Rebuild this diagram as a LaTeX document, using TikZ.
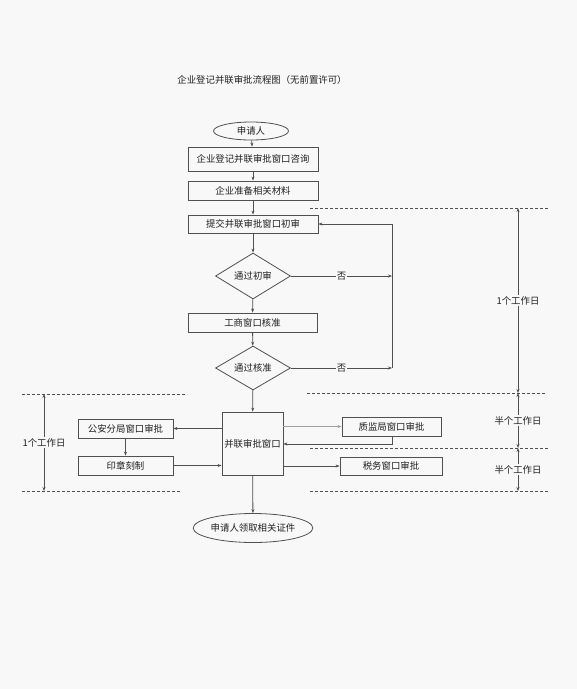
\documentclass[tikz,border=0pt]{standalone}
\usepackage{fontspec}
\setmainfont{Noto Sans CJK SC}
\usetikzlibrary{shapes.geometric,arrows.meta}
\definecolor{bg}{HTML}{F8F8F8}
\definecolor{ln}{HTML}{505050}
\definecolor{tx}{HTML}{202020}
\definecolor{lg}{HTML}{A0A0A0}
\begin{document}
\begin{tikzpicture}[x=1pt,y=-1pt,
  font=\fontsize{9.4}{10}\selectfont, text=tx,
  stepbox/.style={draw=ln, line width=0.8pt, fill=bg, rectangle, inner sep=0pt, minimum width=#1},
  stepbox/.default=130,
  decision/.style={draw=ln, line width=0.8pt, fill=bg, diamond, inner sep=0pt, minimum width=75, minimum height=46, aspect=1.63},
  oval/.style={draw=ln, line width=0.8pt, fill=bg, ellipse, inner sep=0pt},
  arr/.style={draw=ln, line width=0.8pt, -{Stealth[length=4pt,width=3pt]}},
  plain/.style={draw=ln, line width=0.8pt},
  dashline/.style={draw=ln, line width=0.8pt, dash pattern=on 3pt off 2pt},
  dimarr/.style={draw=ln, line width=0.8pt, {Stealth[length=4pt,width=3pt]}-{Stealth[length=4pt,width=3pt]}},
  lbl/.style={fill=bg, inner sep=1pt}
]
\useasboundingbox[fill=bg] (0,0) rectangle (577,689);

\node (title) at (262,80) {企业登记并联审批流程图（无前置许可）};

\node[oval, minimum width=75, minimum height=18] (e1) at (251,131) {申请人};
\node[stepbox, minimum height=24] (b1) at (253,159) {企业登记并联审批窗口咨询};
\node[stepbox, minimum height=19] (b2) at (253,190.5) {企业准备相关材料};
\node[stepbox, minimum height=18] (b3) at (253,224) {提交并联审批窗口初审};
\node[decision] (d1) at (253,276) {通过初审};
\node[stepbox=129, minimum height=19] (b4) at (252.5,322.5) {工商窗口核准};
\node[decision, minimum height=44] (d2) at (253,368) {通过核准};
\node[stepbox=61, minimum height=63] (par) at (252.5,443.5) {并联审批窗口};
\node[stepbox=95, minimum height=19] (ga) at (125.5,428.5) {公安分局窗口审批};
\node[stepbox=95, minimum height=19] (yz) at (125.5,465.5) {印章刻制};
\node[stepbox=99, minimum height=19] (zj) at (391.5,426.5) {质监局窗口审批};
\node[stepbox=102, minimum height=18] (sw) at (391,466) {税务窗口审批};
\node[oval, minimum width=116, minimum height=29] (e2) at (253,528) {申请人领取相关证件};

% main flow
\draw[arr] (e1) -- (b1);
\draw[arr] (b1) -- (b2);
\draw[arr] (b2) -- (b3);
\draw[arr] (b3) -- (d1);
\draw[arr] (d1) -- (b4);
\draw[arr] (b4) -- (d2);
\draw[arr] (d2) -- (par);
\draw[arr] (par) -- (e2);

% loop back
\coordinate (r0) at (392,224);
\coordinate (r1) at (392,276);
\coordinate (r2) at (392,368);
\draw[arr] (d1.east) -- node[lbl] {否} (r1);
\draw[arr] (d2.east) -- node[lbl] {否} (r2);
\draw[plain] (r2) -- (r0);
\draw[arr] (r0) -- (b3.east);

% parallel windows
\draw[arr] (ga.east -| par.west) -- (ga.east);
\draw[arr] (ga) -- (yz);
\draw[arr] (yz.east) -- (yz.east -| par.west);
\draw[arr, draw=lg] (zj.west -| par.east) -- (zj.west);
\coordinate (zr) at (392,444);
\draw[arr] (zj.south -| zr) -- (zr) -- (zr -| par.east);
\draw[arr] (sw.west -| par.east) -- (sw.west);

% time bands right
\draw[dashline] (310,208) -- (548,208);
\draw[dashline] (307,393) -- (546,393);
\draw[dashline] (310,448) -- (548,448);
\draw[dashline] (310,491) -- (548,491);
\coordinate (t0) at (518,208);
\coordinate (t1) at (518,393);
\coordinate (t2) at (518,448);
\coordinate (t3) at (518,491);
\draw[dimarr] (t0) -- node[lbl] {1个工作日} (t1);
\draw[dimarr] (t1) -- node[lbl, pos=0.5] {半个工作日} (t2);
\draw[dimarr] (t2) -- node[lbl] {半个工作日} (t3);

% time band left
\draw[dashline] (22,394) -- (187,394);
\draw[dashline] (22,491) -- (180,491);
\coordinate (l0) at (44,394);
\coordinate (l1) at (44,491);
\draw[dimarr] (l0) -- node[lbl] {1个工作日} (l1);
\end{tikzpicture}
\end{document}
